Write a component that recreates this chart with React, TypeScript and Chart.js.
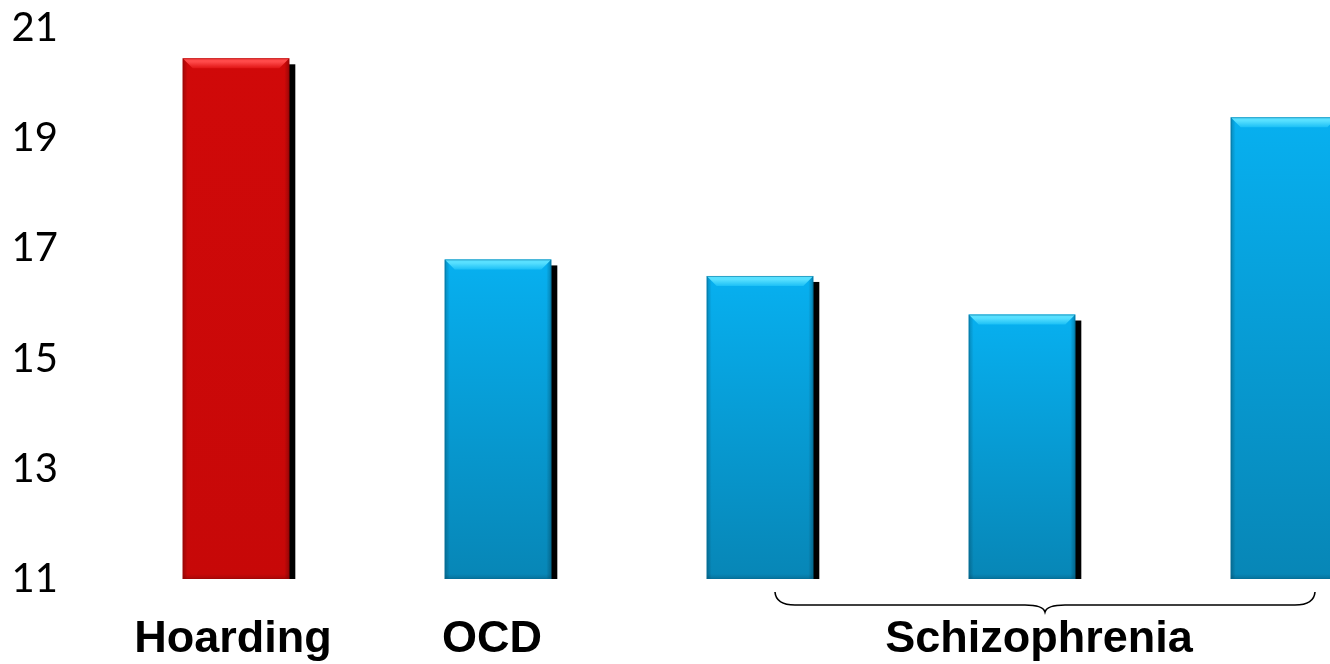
import { useEffect, useRef } from "react";
import { Chart, registerables } from "chart.js";

Chart.register(...registerables);

// Bars, left to right
const categories = ["Hoarding", "OCD", "Schizophrenia 1", "Schizophrenia 2", "Schizophrenia 3"];
const values = [20.45, 16.8, 16.5, 15.8, 19.38];
const barTone = ["red", "blue", "blue", "blue", "blue"];

// Y axis
const yMin = 11;
const yMax = 21;
const yStep = 2;

// Group labels under the x axis: text, first bar index, last bar index
const groupNames = ["Hoarding", "OCD", "Schizophrenia"];
const groupFirst = [0, 1, 2];
const groupLast = [0, 1, 4];

const CANVAS_W = 1420;
const CANVAS_H = 664;

const palette: Record<string, { top: string; bottom: string; light: string; mid: string; edge: string }> = {
  red: { top: "#d00909", bottom: "#c70808", light: "#ff4a4a", mid: "#e01414", edge: "#9a0505" },
  blue: { top: "#07b0f0", bottom: "#0786b6", light: "#58e0ff", mid: "#1cc0f6", edge: "#056e98" },
};

function barFill(ctx: any) {
  const i = ctx.dataIndex;
  const tone = palette[barTone[i]];
  const chart = ctx.chart;
  const y = chart.scales && chart.scales.y;
  if (!y || !chart.chartArea) return tone.top;
  const top = y.getPixelForValue(values[i]);
  const bottom = y.getPixelForValue(yMin);
  const g = chart.ctx.createLinearGradient(0, top, 0, bottom);
  g.addColorStop(0, tone.top);
  g.addColorStop(1, tone.bottom);
  return g;
}

// bottom of a bar as seen inside the plot (the axis starts above zero)
const barBottom = (chart: any, el: any) => Math.min(el.base, chart.chartArea.bottom);

// Hard black drop shadow behind each bar
const shadowPlugin = {
  id: "barShadow",
  beforeDatasetsDraw(chart: any) {
    const meta = chart.getDatasetMeta(0);
    const c = chart.ctx;
    c.save();
    c.fillStyle = "#000";
    meta.data.forEach((el: any) => {
      const w = el.width;
      const left = el.x - w / 2;
      const b = barBottom(chart, el);
      c.fillRect(left + 6, el.y + 6, w, b - el.y - 6);
    });
    c.restore();
  },
};

// Bevelled top edge, shaded sides and a fine outline
const bevelPlugin = {
  id: "barBevel",
  afterDatasetsDraw(chart: any) {
    const meta = chart.getDatasetMeta(0);
    const c = chart.ctx;
    c.save();
    meta.data.forEach((el: any, i: number) => {
      const tone = palette[barTone[i]];
      const w = el.width;
      const l = el.x - w / 2;
      const r = el.x + w / 2;
      const t = el.y;
      const b = barBottom(chart, el);
      const bev = 10;

      // top facet
      const g = c.createLinearGradient(0, t, 0, t + bev);
      g.addColorStop(0, tone.light);
      g.addColorStop(0.35, tone.light);
      g.addColorStop(1, tone.mid);
      c.fillStyle = g;
      c.beginPath();
      c.moveTo(l, t);
      c.lineTo(r, t);
      c.lineTo(r - bev, t + bev);
      c.lineTo(l + bev, t + bev);
      c.closePath();
      c.fill();

      // side facets
      const gl = c.createLinearGradient(l, 0, l + 5, 0);
      gl.addColorStop(0, "rgba(0,0,0,0.22)");
      gl.addColorStop(1, "rgba(0,0,0,0)");
      c.fillStyle = gl;
      c.beginPath();
      c.moveTo(l, t);
      c.lineTo(l + bev, t + bev);
      c.lineTo(l + 5, t + bev);
      c.lineTo(l + 5, b);
      c.lineTo(l, b);
      c.closePath();
      c.fill();

      const gr = c.createLinearGradient(r - 5, 0, r, 0);
      gr.addColorStop(0, "rgba(0,0,0,0)");
      gr.addColorStop(1, "rgba(0,0,0,0.25)");
      c.fillStyle = gr;
      c.beginPath();
      c.moveTo(r, t);
      c.lineTo(r - bev, t + bev);
      c.lineTo(r - 5, t + bev);
      c.lineTo(r - 5, b);
      c.lineTo(r, b);
      c.closePath();
      c.fill();

      // bottom facet
      const gb = c.createLinearGradient(0, b - 5, 0, b);
      gb.addColorStop(0, "rgba(0,0,0,0)");
      gb.addColorStop(1, "rgba(0,0,0,0.15)");
      c.fillStyle = gb;
      c.fillRect(l, b - 5, w, 5);

      // outline
      c.strokeStyle = tone.edge;
      c.globalAlpha = 0.55;
      c.lineWidth = 1;
      c.strokeRect(l + 0.5, t + 0.5, w - 1, b - t - 1);
      c.globalAlpha = 1;
    });
    c.restore();
  },
};

// Group captions and the brace that gathers the schizophrenia bars
const captionPlugin = {
  id: "groupCaptions",
  afterDraw(chart: any) {
    const c = chart.ctx;
    const x = chart.scales.x;
    const area = chart.chartArea;
    const center = (i: number) => x.getPixelForValue(i);
    const shift = [-3, -6, 17];
    c.save();
    c.fillStyle = "#000";
    c.textAlign = "center";
    c.textBaseline = "alphabetic";
    c.font = 'bold 45px "Liberation Sans", Arial, sans-serif';
    groupNames.forEach((name, g) => {
      const cx = (center(groupFirst[g]) + center(groupLast[g])) / 2 + shift[g];
      c.fillText(name, cx, area.bottom + 73);
    });

    // brace over the multi-bar group
    groupNames.forEach((_, g) => {
      if (groupFirst[g] === groupLast[g]) return;
      const L = center(groupFirst[g]) + 15;
      const R = center(groupLast[g]) + 31;
      const C = (L + R) / 2;
      const yTop = area.bottom + 13;
      const yLine = area.bottom + 26;
      const yCusp = area.bottom + 33;
      const k = 20;
      c.strokeStyle = "#000";
      c.lineWidth = 1.6;
      c.beginPath();
      c.moveTo(L, yTop);
      c.quadraticCurveTo(L + 1, yLine, L + k, yLine);
      c.lineTo(C - k, yLine);
      c.quadraticCurveTo(C - 2, yLine, C, yCusp);
      c.quadraticCurveTo(C + 2, yLine, C + k, yLine);
      c.lineTo(R - k, yLine);
      c.quadraticCurveTo(R - 1, yLine, R, yTop);
      c.stroke();
    });
    c.restore();
  },
};

export default function App() {
  const canvasRef = useRef<HTMLCanvasElement | null>(null);

  useEffect(() => {
    if (!canvasRef.current) return;
    const chart = new Chart(canvasRef.current, {
      type: "bar",
      data: {
        labels: categories,
        datasets: [
          {
            data: values,
            backgroundColor: barFill,
            borderWidth: 0,
            barPercentage: 0.407,
            categoryPercentage: 1,
          },
        ],
      },
      options: {
        animation: false,
        responsive: false,
        devicePixelRatio: 1,
        layout: { padding: { top: 28, right: 5, bottom: 85, left: 0 } },
        plugins: { legend: { display: false }, tooltip: { enabled: false } },
        scales: {
          x: { display: false },
          y: {
            min: yMin,
            max: yMax,
            grid: { display: false, drawTicks: false },
            border: { display: false },
            ticks: {
              stepSize: yStep,
              padding: 47,
              color: "#000",
              font: { family: "Lato, 'Open Sans', sans-serif", size: 40 },
            },
            afterFit(scale: any) {
              scale.width = 105;
              scale.paddingTop = 0;
              scale.paddingBottom = 0;
            },
          },
        },
      },
      plugins: [shadowPlugin, bevelPlugin, captionPlugin],
    });
    return () => chart.destroy();
  }, []);

  return (
    <div style={{ position: "absolute", left: 0, top: 0, width: 1330, height: 664, overflow: "hidden", background: "#fff" }}>
      <canvas ref={canvasRef} width={CANVAS_W} height={CANVAS_H} style={{ display: "block" }} />
    </div>
  );
}
